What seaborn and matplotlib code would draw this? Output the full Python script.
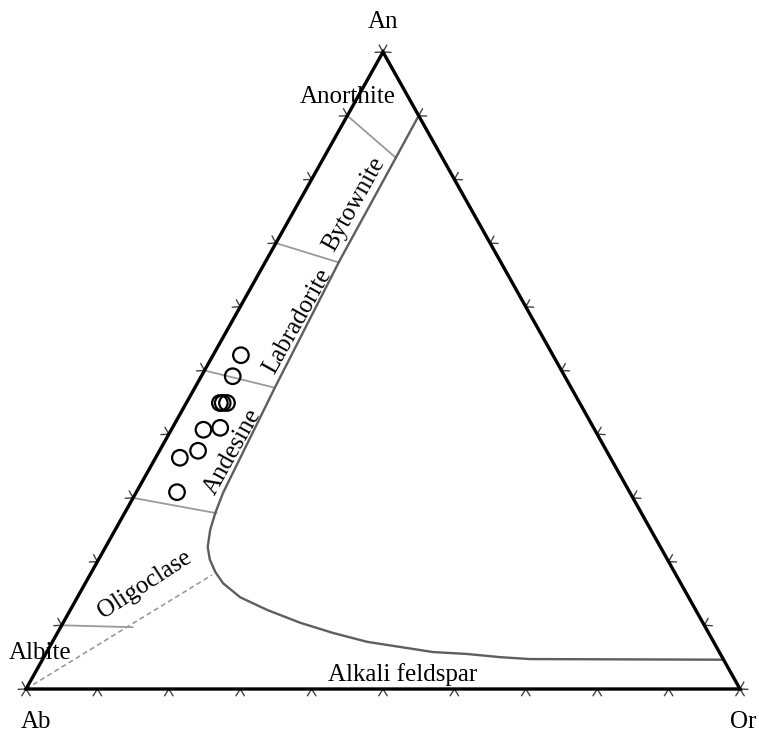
import numpy as np
import pandas as pd
import matplotlib
matplotlib.use("Agg")
import matplotlib.pyplot as plt
import seaborn as sns

# ---------------- data (mol %) : An and Or given, Ab = 100 - An - Or ----------------
sample_an = [52.4, 49.1, 44.9, 44.9, 44.9, 41.0, 40.7, 37.4, 36.3, 30.9]
sample_or = [3.9, 4.4, 4.7, 5.1, 5.7, 6.7, 4.5, 5.4, 3.4, 5.7]

# plagioclase / alkali-feldspar field boundary
solvus_an = [90.0, 83.4, 67.3, 47.3, 30.8, 27.6, 25.0, 22.3, 20.3, 18.4, 16.6, 14.4,
             12.4, 10.4, 8.8, 7.4, 6.6, 5.8, 5.5, 5.0, 4.7, 4.6]
solvus_or = [10.0, 10.1, 10.3, 11.2, 12.2, 12.7, 13.3, 14.3, 15.6, 17.3, 19.3, 22.8,
             27.6, 33.2, 38.6, 44.1, 49.1, 54.1, 59.0, 63.9, 68.2, 95.4]

# plagioclase name dividers (start on Ab-An join, end at the boundary)
divider_an_start = [90, 70, 50, 30, 10]
divider_an_end = [83.4, 67.0, 47.3, 27.6, 9.7]
divider_or_end = [10.1, 10.2, 11.2, 12.9, 10.1]

# dashed join from Ab
dash_an = [0.0, 17.9]
dash_or = [0.0, 17.1]

tick_values = list(range(0, 101, 10))
apex_labels = ["An", "Ab", "Or"]
field_labels = ["Anorthite", "Bytownite", "Labradorite", "Andesine",
                "Oligoclase", "Albite", "Alkali feldspar"]

# ---------------- helpers ----------------
H = np.sqrt(3) / 2


def tern(an, orr):
    an = np.asarray(an, float) / 100.0
    orr = np.asarray(orr, float) / 100.0
    return orr + an / 2, an * H


sns.set_theme(style="white")
plt.rcParams['font.family'] = ['Liberation Serif', 'DejaVu Serif']

W, HP = 759, 744
fig = plt.figure(figsize=(W / 100, HP / 100), dpi=100)
ax = fig.add_axes([0, 0, 1, 1])
ox, oy = 26, 689          # pixel of Ab vertex
sxp = 714                  # px per unit along x
syp = 637 / H              # px per unit along y
ax.set_xlim(-ox / sxp, (W - ox) / sxp)
ax.set_ylim(-(HP - oy) / syp, oy / syp)
ax.axis('off')

# triangle
tx, ty = tern([0, 0, 100, 0], [0, 100, 0, 0])
ax.plot(tx, ty, color='black', lw=2.4, solid_joinstyle='miter', zorder=4)

# ticks (chevrons on the edges)
theta = np.deg2rad(32)
L = 8.0


def chevrons(points_x, points_y, tangent, normal):
    t = np.array(tangent, float); t /= np.linalg.norm(t)
    n = np.array(normal, float); n /= np.linalg.norm(n)
    for x0, y0 in zip(points_x, points_y):
        for s in (-1, 1):
            d = L * (np.cos(theta) * n + s * np.sin(theta) * t)
            ax.plot([x0, x0 + d[0] / sxp], [y0, y0 + d[1] / syp],
                    color='#444444', lw=1.0, zorder=3)


ticks = np.array(tick_values, float)
# left edge Ab -> An
lx, ly = tern(ticks, np.zeros_like(ticks))
dl = np.array([0.5 * sxp, H * syp])
chevrons(lx, ly, dl, [-dl[1], dl[0]])
# right edge Or -> An
rx, ry = tern(ticks, 100 - ticks)
dr = np.array([-0.5 * sxp, H * syp])
chevrons(rx, ry, dr, [dr[1], -dr[0]])
# bottom edge Ab -> Or
bx, by = tern(np.zeros_like(ticks), ticks)
chevrons(bx, by, [1, 0], [0, -1])

# dividers
for a0, a1, o1 in zip(divider_an_start, divider_an_end, divider_or_end):
    xs, ys = tern([a0, a1], [0, o1])
    ax.plot(xs, ys, color='#9a9a9a', lw=1.3, zorder=2)

# dashed join
dx, dy = tern(dash_an, dash_or)
ax.plot(dx, dy, color='#9a9a9a', lw=1.2, ls=(0, (3, 2)), zorder=2)

# boundary curve
cx, cy = tern(solvus_an, solvus_or)
sns.lineplot(x=cx, y=cy, sort=False, estimator=None, color='#5e5e5e', lw=1.7,
             ax=ax, zorder=3)

# samples
px_, py_ = tern(sample_an, sample_or)
sns.scatterplot(x=px_, y=py_, marker='o', s=125, facecolor='none',
                edgecolor='black', linewidth=1.6, ax=ax, zorder=5)

ax.set_xlim(-ox / sxp, (W - ox) / sxp)
ax.set_ylim(-(HP - oy) / syp, oy / syp)


def label(text, px, py, rot=0, size=18):
    ax.text(px / W, 1 - py / HP, text, transform=ax.transAxes, ha='center',
            va='center', rotation=rot, rotation_mode='anchor', fontsize=size,
            color='black', zorder=6)


edge_rot = np.degrees(np.arctan2(637, 357))
label(apex_labels[0], 383, 22, size=18)
label(apex_labels[1], 36, 722, size=18)
label(apex_labels[2], 743, 722, size=18)
label(field_labels[0], 348, 97)
label(field_labels[1], 354, 204, edge_rot)
label(field_labels[2], 297, 321, edge_rot)
label(field_labels[3], 233, 452, edge_rot)
label(field_labels[4], 145, 585, 33)
label(field_labels[5], 40, 653)
label(field_labels[6], 403, 675)

fig.savefig('out.png', dpi=100, facecolor='white')
